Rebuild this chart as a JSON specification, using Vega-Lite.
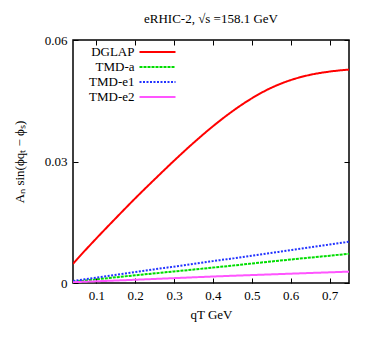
{
  "$schema": "https://vega.github.io/schema/vega-lite/v6.json",
  "width": 276,
  "height": 243,
  "autosize": "none",
  "padding": {"left": 73, "top": 40, "right": 25, "bottom": 57},
  "background": "white",
  "title": {"text": "eRHIC-2, √s =158.1 GeV", "font": "Times New Roman", "fontSize": 13, "fontWeight": "normal", "color": "black", "offset": 8, "anchor": "middle"},
  "config": {
    "view": {"stroke": "black", "strokeWidth": 1.5},
    "axis": {"labelFont": "Times New Roman", "titleFont": "Times New Roman", "labelFontSize": 13, "titleFontSize": 13, "labelFontWeight": "normal", "titleFontWeight": "normal", "labelColor": "black", "titleColor": "black", "grid": false, "domain": false, "tickColor": "black", "tickSize": -5, "labelPadding": 11}
  },
  "datasets": {
    "curves": [
      {"q": 0.04, "A": 0.0047, "s": "DGLAP"},
      {"q": 0.05, "A": 0.0058, "s": "DGLAP"},
      {"q": 0.1, "A": 0.0110, "s": "DGLAP"},
      {"q": 0.15, "A": 0.0160, "s": "DGLAP"},
      {"q": 0.2, "A": 0.0209, "s": "DGLAP"},
      {"q": 0.25, "A": 0.0256, "s": "DGLAP"},
      {"q": 0.3, "A": 0.0302, "s": "DGLAP"},
      {"q": 0.35, "A": 0.0346, "s": "DGLAP"},
      {"q": 0.4, "A": 0.0387, "s": "DGLAP"},
      {"q": 0.45, "A": 0.0424, "s": "DGLAP"},
      {"q": 0.5, "A": 0.0456, "s": "DGLAP"},
      {"q": 0.55, "A": 0.0482, "s": "DGLAP"},
      {"q": 0.6, "A": 0.0501, "s": "DGLAP"},
      {"q": 0.65, "A": 0.0514, "s": "DGLAP"},
      {"q": 0.7, "A": 0.0522, "s": "DGLAP"},
      {"q": 0.75, "A": 0.0527, "s": "DGLAP"},
      {"q": 0.04, "A": 0.0003, "s": "TMD-a"},
      {"q": 0.2, "A": 0.0019, "s": "TMD-a"},
      {"q": 0.4, "A": 0.0038, "s": "TMD-a"},
      {"q": 0.6, "A": 0.0058, "s": "TMD-a"},
      {"q": 0.75, "A": 0.0072, "s": "TMD-a"},
      {"q": 0.04, "A": 0.0005, "s": "TMD-e1"},
      {"q": 0.2, "A": 0.0027, "s": "TMD-e1"},
      {"q": 0.4, "A": 0.0054, "s": "TMD-e1"},
      {"q": 0.6, "A": 0.0081, "s": "TMD-e1"},
      {"q": 0.75, "A": 0.0102, "s": "TMD-e1"},
      {"q": 0.04, "A": 0.0002, "s": "TMD-e2"},
      {"q": 0.2, "A": 0.0008, "s": "TMD-e2"},
      {"q": 0.4, "A": 0.0016, "s": "TMD-e2"},
      {"q": 0.6, "A": 0.0023, "s": "TMD-e2"},
      {"q": 0.75, "A": 0.0028, "s": "TMD-e2"}
    ]
  },
  "data": {"name": "curves"},
  "layer": [
    {
      "mark": {"type": "line", "strokeWidth": 2, "interpolate": "monotone", "clip": true},
      "encoding": {
        "x": {"field": "q", "type": "quantitative", "scale": {"domain": [0.04, 0.75], "nice": false, "zero": false}, "axis": {"orient": "bottom", "values": [0.1, 0.2, 0.3, 0.4, 0.5, 0.6, 0.7], "format": ".1f", "title": "qT GeV", "titlePadding": 6}},
        "y": {"field": "A", "type": "quantitative", "scale": {"domain": [0, 0.06], "nice": false}, "axis": {"orient": "left", "values": [0, 0.03, 0.06], "labelExpr": "datum.value == 0 ? '0' : format(datum.value, '.2f')", "title": "Aₙ sin(ϕqₜ − ϕₛ)", "titlePadding": 18}},
        "color": {"field": "s", "type": "nominal", "scale": {"domain": ["DGLAP", "TMD-a", "TMD-e1", "TMD-e2"], "range": ["#ff0000", "#00dd00", "#2233ff", "#ff55ff"]},
          "legend": {"orient": "none", "legendX": 77.5, "legendY": 5, "title": null, "symbolType": "M-3,0H3", "symbolSize": 144, "symbolStrokeWidth": 2, "symbolFillColor": "transparent", "labelAlign": "right", "labelOffset": -30, "labelFont": "Times New Roman", "labelFontWeight": "normal", "labelFontSize": 13, "labelColor": "black", "rowPadding": 1}},
        "strokeDash": {"field": "s", "type": "nominal", "scale": {"domain": ["DGLAP", "TMD-a", "TMD-e1", "TMD-e2"], "range": [[1, 0], [3, 1], [2, 1.5], [1, 0]]}, "legend": null}
      }
    },
    {
      "mark": {"type": "line", "opacity": 0},
      "encoding": {
        "x": {"field": "q", "type": "quantitative", "axis": {"orient": "top", "values": [0.1, 0.2, 0.3, 0.4, 0.5, 0.6, 0.7], "labels": false, "title": null}},
        "y": {"field": "A", "type": "quantitative", "axis": {"orient": "right", "values": [0, 0.03, 0.06], "labels": false, "title": null}}
      }
    }
  ],
  "resolve": {"axis": {"x": "independent", "y": "independent"}}
}
